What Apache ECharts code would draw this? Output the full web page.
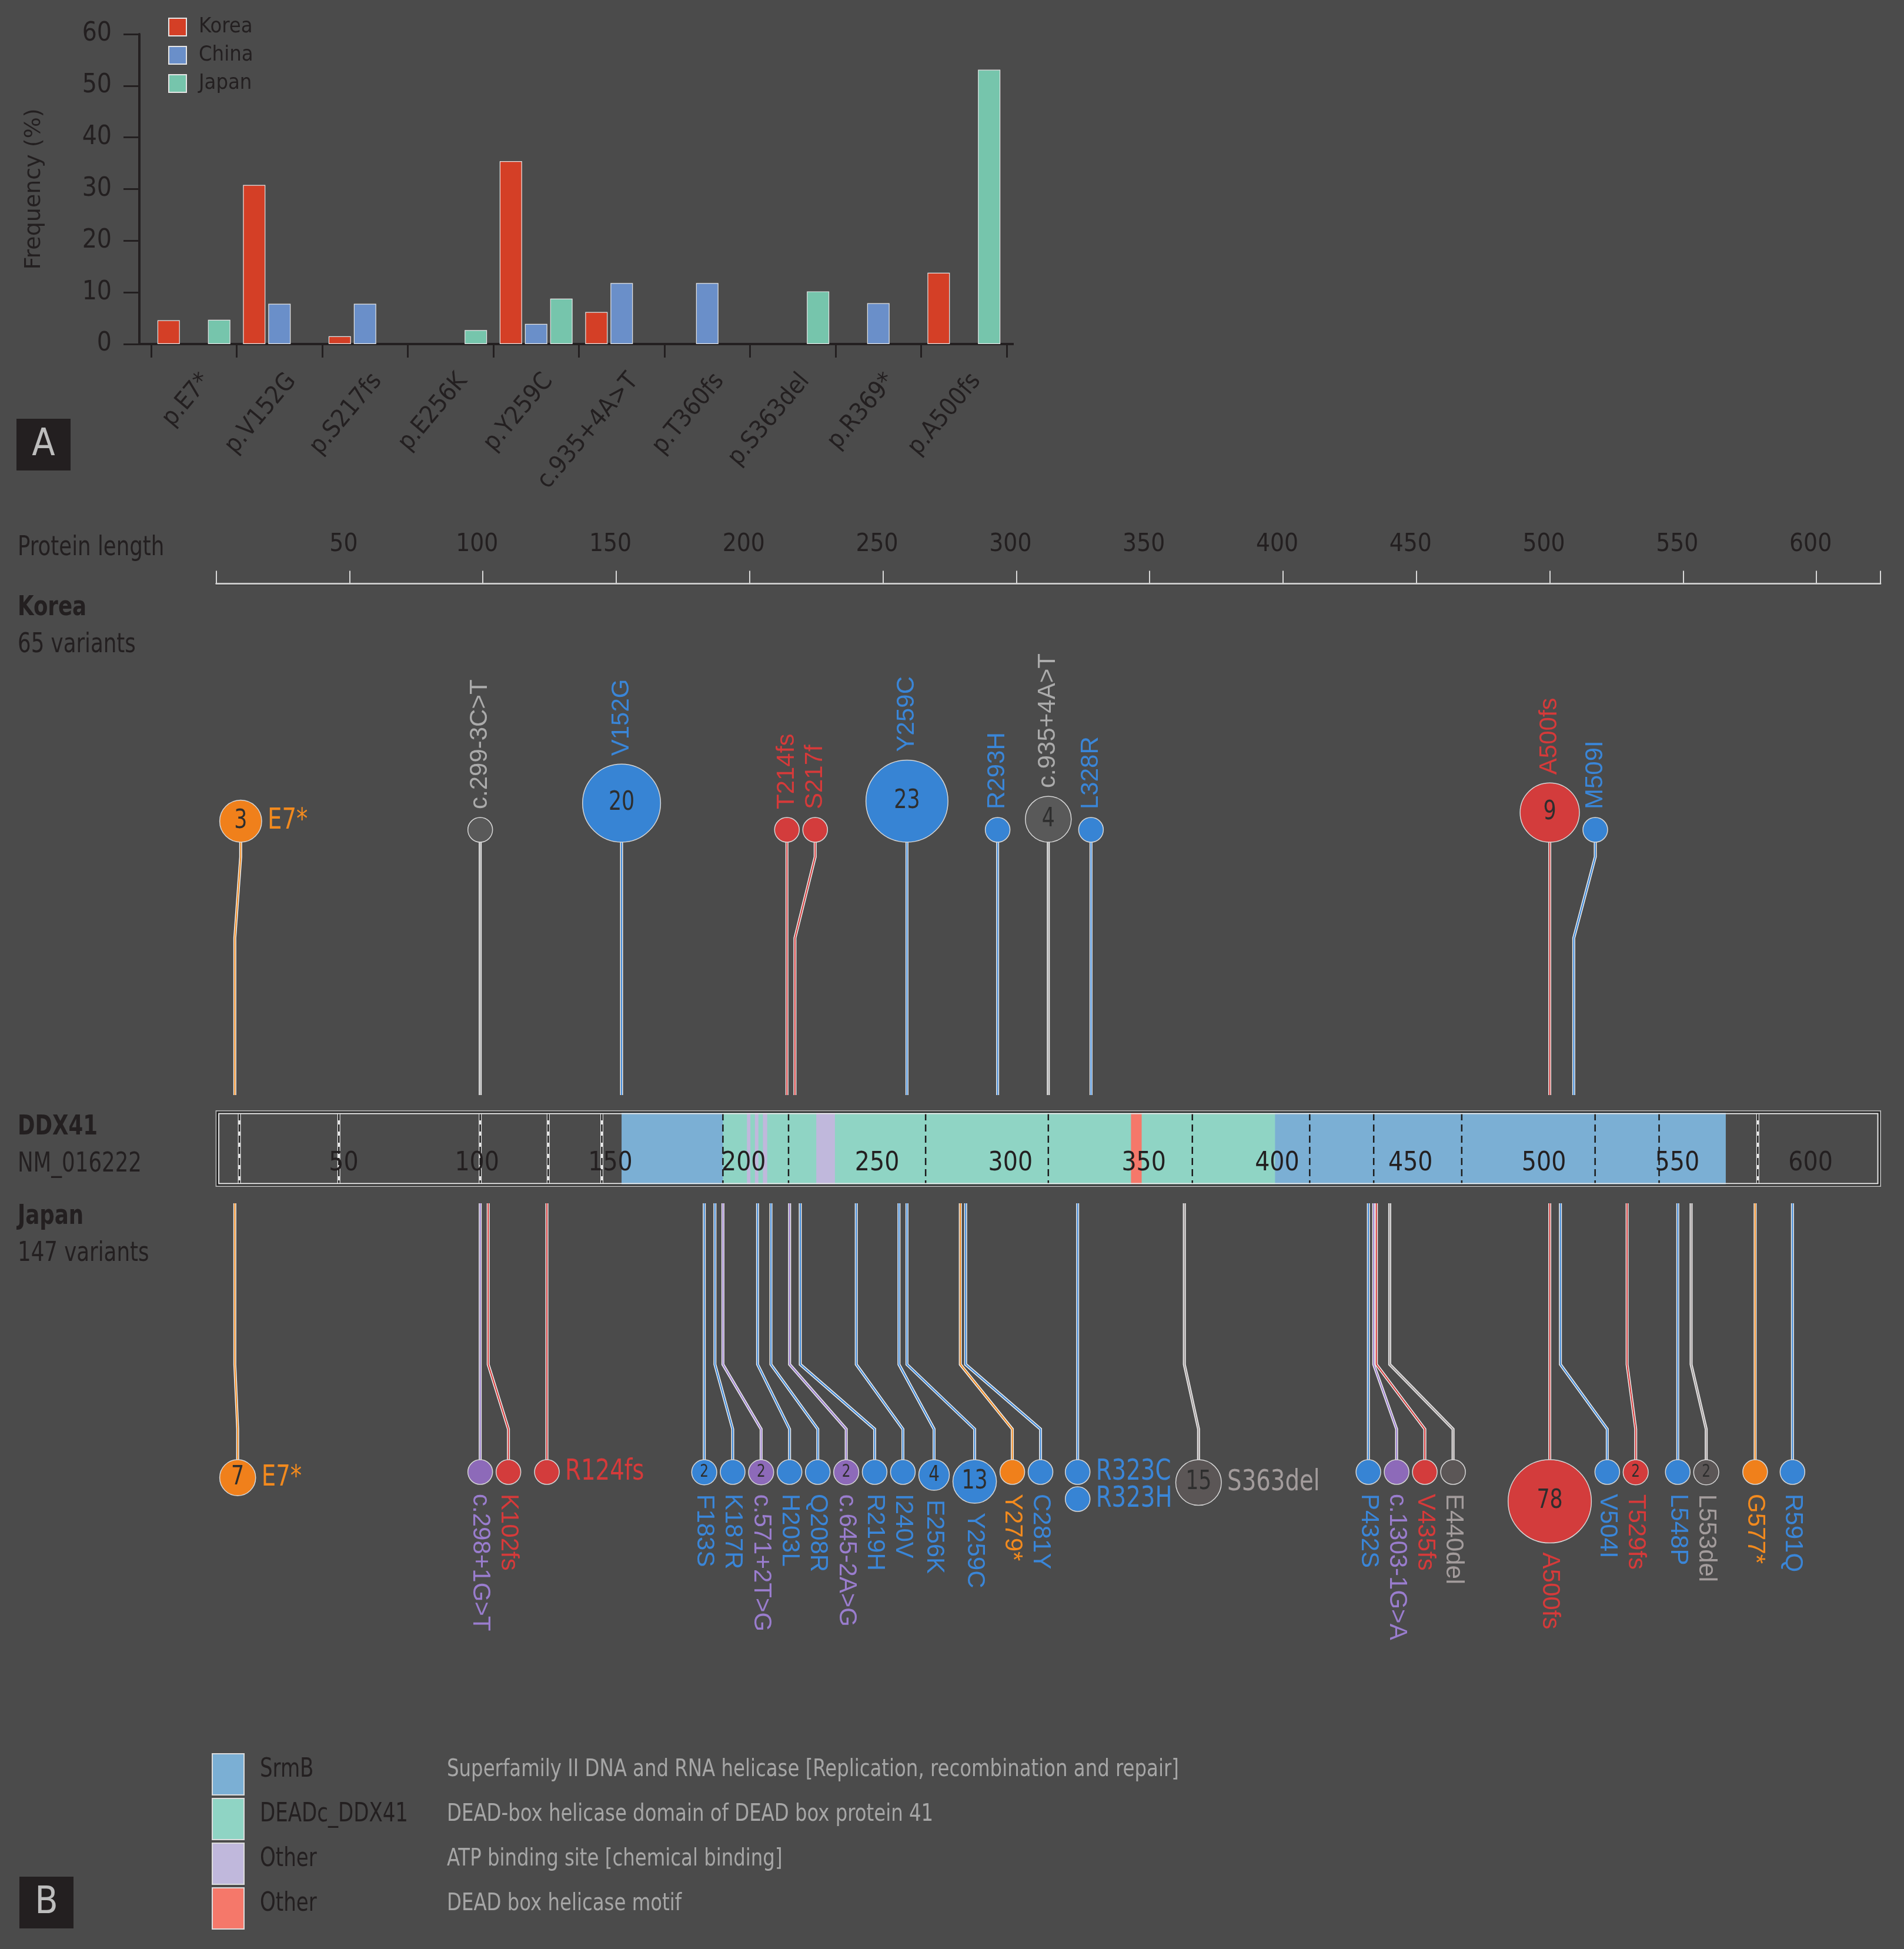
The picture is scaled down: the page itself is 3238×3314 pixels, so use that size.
<!DOCTYPE html>
<html>
<head>
<meta charset="utf-8">
<script src="https://cdn.jsdelivr.net/npm/echarts@6/dist/echarts.min.js"></script>
<style>
html, body { margin: 0; padding: 0; background: #4b4b4b; }
#chart { width: 3238px; height: 3314px; }
</style>
</head>
<body>
<div id="chart"></div>
<script>
// ---- panel A: frequency per hotspot variant ----
var mutationLabels = ['p.E7*', 'p.V152G', 'p.S217fs', 'p.E256K', 'p.Y259C', 'c.935+4A>T', 'p.T360fs', 'p.S363del', 'p.R369*', 'p.A500fs'];
var koreaFreq = [4.6, 30.8, 1.5, null, 35.4, 6.2, null, null, null, 13.8];
var chinaFreq = [null, 7.8, 7.8, null, 3.9, 11.8, 11.8, null, 7.9, null];
var japanFreq = [4.7, null, null, 2.7, 8.8, null, null, 10.2, null, 53.1];

// ---- panel B: DDX41 lollipop ----
var koreaNames = ['E7*', 'c.299-3C>T', 'V152G', 'T214fs', 'S217f', 'Y259C', 'R293H', 'c.935+4A>T', 'L328R', 'A500fs', 'M509I'];
var koreaPos = [7, 99, 152, 214, 217, 259, 293, 312, 328, 500, 509];
var koreaCounts = [3, 1, 20, 1, 1, 23, 1, 4, 1, 9, 1];
var koreaTypes = ['nonsense', 'intronic', 'missense', 'frameshift', 'frameshift', 'missense', 'missense', 'intronic', 'missense', 'frameshift', 'missense'];

var japanNames = ['E7*', 'c.298+1G>T', 'K102fs', 'R124fs', 'F183S', 'K187R', 'c.571+2T>G', 'H203L', 'Q208R', 'c.645-2A>G',
    'R219H', 'I240V', 'E256K', 'Y259C', 'Y279*', 'C281Y', 'R323C', 'R323H', 'S363del', 'P432S',
    'c.1303-1G>A', 'V435fs', 'E440del', 'A500fs', 'V504I', 'T529fs', 'L548P', 'L553del', 'G577*', 'R591Q'];
var japanPos = [7, 99, 102, 124, 183, 187, 190, 203, 208, 215, 219, 240, 256, 259, 279, 281, 323, 323, 363, 432,
    434, 435, 440, 500, 504, 529, 548, 553, 577, 591];
var japanCounts = [7, 1, 1, 1, 2, 1, 2, 1, 1, 2, 1, 1, 4, 13, 1, 1, 1, 1, 15, 1, 1, 1, 1, 78, 1, 2, 1, 2, 1, 1];
var japanTypes = ['nonsense', 'splice', 'frameshift', 'frameshift', 'missense', 'missense', 'splice', 'missense', 'missense', 'splice',
    'missense', 'missense', 'missense', 'missense', 'nonsense', 'missense', 'missense', 'missense', 'inframe', 'missense',
    'splice', 'frameshift', 'inframe', 'frameshift', 'missense', 'frameshift', 'missense', 'inframe', 'nonsense', 'missense'];

var srmbSpan = [152, 566];
var deadcSpan = [190, 397];
var atpSpans = [[199, 200.3], [202, 203.3], [205, 206.6], [225, 232]];
var motifSpan = [343, 347];
var exonBounds = [8.7, 46, 99, 124.5, 144.6, 190, 214.6, 266, 312, 366, 410, 434, 467, 517, 541, 578];

var legendNames = ['SrmB', 'DEADc_DDX41', 'Other', 'Other'];
var legendDescs = ['Superfamily II DNA and RNA helicase [Replication, recombination and repair]',
    'DEAD-box helicase domain of DEAD box protein 41',
    'ATP binding site [chemical binding]',
    'DEAD box helicase motif'];

// ---- styles ----
var NARROW = '"Liberation Sans Narrow", "DejaVu Sans Condensed", "Arial Narrow", sans-serif';
var SANS = '"Liberation Sans", Arial, sans-serif';
var SQUEEZE = 0.86;   // no condensed face installed, so graphic texts are squeezed
var INK = '#231f20';
var AXIS_MAX = 624;
var domainColors = ['#7bafd4', '#8fd4c4', '#c0b8dc', '#f5786a'];
var typeFill = { missense: '#3784d4', frameshift: '#d33c3c', nonsense: '#f0801b', splice: '#8d6ab9', inframe: '#5b5656', intronic: '#595959' };
var typeText = { missense: '#3a86d8', frameshift: '#d63a3a', nonsense: '#f28a1e', splice: '#9a7dce', inframe: '#a39c9c', intronic: '#ababab' };
var horizKorea = ['E7*'];
var horizJapan = ['E7*', 'R124fs', 'R323C', 'R323H', 'S363del'];

// vertical layout, in the pixel-like units of panel B's hidden y axis
var BAR_Y0 = 1889, BAR_Y1 = 2017;
var KOREA_STEM = [1862, 1595, 1457], KOREA_BASE = 1432;
var JAPAN_STEM = [2046, 2320, 2430], JAPAN_BASE = 2482;

var measureCtx = document.createElement('canvas').getContext('2d');
function textWidth(s, font) {
    measureCtx.font = font;
    return measureCtx.measureText(s).width;
}

// circle radius grows with the square root of the count, never below 21px
function circleR(count, scale) {
    return Math.max(21, scale[0] + scale[1] * Math.sqrt(count - 1));
}

function tickText(v) {
    return (v === 0 || v % 50 !== 0) ? '' : String(v);
}

// push circles right so they do not overlap (stems keep their true position)
function computeLayout(api, names, pos, counts, scale, horiz) {
    var res = [];
    var right = api.coord([0, 0])[0];
    var prev = null;
    for (var i = 0; i < pos.length; i++) {
        var r = circleR(counts[i], scale);
        var sx = api.coord([pos[i], 0])[0];
        var cx, stack = 0;
        if (prev && pos[prev.i] === pos[i]) {
            cx = prev.cx;
            stack = prev.stack + 1;
        } else {
            cx = Math.max(sx, right + 6 + r);
        }
        var ext = cx + r;
        if (horiz.indexOf(names[i]) >= 0) {
            ext += 10 + SQUEEZE * textWidth(names[i], '50px ' + NARROW);
        }
        right = Math.max(right, ext);
        prev = { i: i, cx: cx, stack: stack };
        res.push({ r: r, cx: cx, stack: stack });
    }
    return res;
}

function lollipops(names, pos, counts, types, isKorea, scale, horiz) {
    var layout = null;
    return {
        type: 'custom',
        xAxisIndex: 1,
        yAxisIndex: 1,
        z: 5,
        silent: true,
        data: pos.map(function (p, i) { return [p, counts[i]]; }),
        renderItem: function (params, api) {
            if (!layout) {
                layout = computeLayout(api, names, pos, counts, scale, horiz);
            }
            var i = params.dataIndex;
            var L = layout[i];
            var yc = function (v) { return api.coord([pos[i], v])[1]; };
            var sx = api.coord([pos[i], 0])[0];
            var cx = L.cx, r = L.r, cy;
            var pts;
            if (isKorea) {
                cy = yc(KOREA_BASE) - r;
                pts = [[sx, yc(KOREA_STEM[0])], [sx, yc(KOREA_STEM[1])], [cx, yc(KOREA_STEM[2])], [cx, cy + r]];
            } else {
                cy = yc(JAPAN_BASE) + r + L.stack * (2 * r + 4);
                pts = [[sx, yc(JAPAN_STEM[0])], [sx, yc(JAPAN_STEM[1])], [cx, yc(JAPAN_STEM[2])], [cx, cy - r]];
            }
            var fill = typeFill[types[i]];
            var tcol = typeText[types[i]];
            var children = [];
            if (L.stack === 0) {
                children.push({ type: 'polyline', shape: { points: pts }, style: { stroke: '#eeeeee', lineWidth: 5, fill: null } });
                children.push({ type: 'polyline', shape: { points: pts }, style: { stroke: tcol, lineWidth: 2, fill: null } });
            }
            children.push({ type: 'circle', shape: { cx: cx, cy: cy, r: r }, style: { fill: fill, stroke: '#d6d6d6', lineWidth: 1.5 } });
            if (counts[i] > 1) {
                var fs = r <= 22 ? 30 : (r < 30 ? 38 : 45);
                children.push({
                    type: 'text', x: cx, y: cy, scaleX: SQUEEZE,
                    style: { text: String(counts[i]), fill: '#2e2e2e', fontSize: fs, fontFamily: NARROW, align: 'center', verticalAlign: 'middle' }
                });
            }
            if (horiz.indexOf(names[i]) >= 0) {
                children.push({
                    type: 'text', x: cx + r + 10, y: cy, scaleX: SQUEEZE,
                    style: { text: names[i], fill: tcol, fontSize: 50, fontFamily: NARROW, align: 'left', verticalAlign: 'middle' }
                });
            } else if (isKorea) {
                children.push({
                    type: 'text', x: cx, y: cy - r - 14, rotation: Math.PI / 2,
                    style: { text: names[i], fill: tcol, fontSize: 42, fontFamily: SANS, align: 'left', verticalAlign: 'middle' }
                });
            } else {
                children.push({
                    type: 'text', x: cx, y: cy + r + 16, rotation: -Math.PI / 2,
                    style: { text: names[i], fill: tcol, fontSize: 42, fontFamily: SANS, align: 'left', verticalAlign: 'middle' }
                });
            }
            return { type: 'group', children: children };
        }
    };
}

// domain rectangles: [start, end, colour index]
var domainData = [[srmbSpan[0], srmbSpan[1], 0], [deadcSpan[0], deadcSpan[1], 1]];
atpSpans.forEach(function (s) { domainData.push([s[0], s[1], 2]); });
domainData.push([motifSpan[0], motifSpan[1], 3]);

function inDomain(v) {
    return v > srmbSpan[0] && v < srmbSpan[1];
}

var chart = echarts.init(document.getElementById('chart'));

var graphics = [
    // x axis of panel A runs a little past the category band on both sides
    { type: 'line', shape: { x1: 237, y1: 585, x2: 1724, y2: 585 }, style: { stroke: INK, lineWidth: 4 }, z: 1 },
    { type: 'rect', shape: { x: 28, y: 712, width: 92, height: 88 }, style: { fill: INK } },
    { type: 'text', x: 74, y: 757, style: { text: 'A', fill: '#bdbdbd', fontSize: 64, fontFamily: NARROW, align: 'center', verticalAlign: 'middle' } },
    { type: 'rect', shape: { x: 33, y: 3191, width: 92, height: 88 }, style: { fill: INK } },
    { type: 'text', x: 79, y: 3236, style: { text: 'B', fill: '#bdbdbd', fontSize: 64, fontFamily: NARROW, align: 'center', verticalAlign: 'middle' } }
];
var sideLabels = [['Protein length', 932, 'normal'], ['Korea', 1034, 'bold'], ['65 variants', 1097, 'normal'],
    ['DDX41', 1917, 'bold'], ['NM_016222', 1980, 'normal'], ['Japan', 2069, 'bold'], ['147 variants', 2132, 'normal']];
sideLabels.forEach(function (s) {
    graphics.push({ type: 'text', x: 30, y: s[1], scaleX: SQUEEZE, style: { text: s[0], fill: INK, fontSize: 46, fontWeight: s[2], fontFamily: NARROW, verticalAlign: 'middle' } });
});
legendNames.forEach(function (name, i) {
    var y = 2982 + i * 76;
    graphics.push({ type: 'rect', shape: { x: 361, y: y, width: 54, height: 70 }, style: { fill: domainColors[i], stroke: '#dcdcdc', lineWidth: 2 } });
    graphics.push({ type: 'text', x: 442, y: y + 28, scaleX: SQUEEZE, style: { text: name, fill: INK, fontSize: 44, fontFamily: NARROW, verticalAlign: 'middle' } });
    graphics.push({ type: 'text', x: 760, y: y + 28, scaleX: 0.9, style: { text: legendDescs[i], fill: '#a6a6a6', fontSize: 40, fontFamily: NARROW, verticalAlign: 'middle' } });
});

var option = {
    backgroundColor: '#4b4b4b',
    animation: false,
    textStyle: { fontFamily: NARROW },
    legend: {
        data: ['Korea', 'China', 'Japan'],
        orient: 'vertical',
        left: 281,
        top: 23,
        itemWidth: 30,
        itemHeight: 30,
        itemGap: 12,
        icon: 'rect',
        textStyle: { color: INK, fontSize: 36, lineHeight: 30, fontFamily: NARROW, padding: [0, 0, 0, 16] }
    },
    grid: [
        { left: 257, top: 58, width: 1455, height: 527, outerBoundsMode: 'none' },
        { left: 367.6, top: 0, width: 2830.4, height: 3314, outerBoundsMode: 'none' },
        { left: 367.6, top: 989.5, width: 2830.4, height: 3, outerBoundsMode: 'none' },
        { left: 367.6, top: BAR_Y0, width: 2830.4, height: BAR_Y1 - BAR_Y0, outerBoundsMode: 'none' },
        { left: 278, top: 58, width: 1455, height: 527, outerBoundsMode: 'none' }
    ],
    xAxis: [
        {
            gridIndex: 0, type: 'category', data: mutationLabels,
            axisLine: { show: false },
            axisTick: { show: true, length: 23, lineStyle: { color: INK, width: 3 } },
            axisLabel: { show: false }
        },
        { gridIndex: 1, type: 'value', min: 0, max: AXIS_MAX, show: false },
        {
            gridIndex: 2, type: 'value', position: 'top', min: 0, max: AXIS_MAX, interval: 50,
            axisLine: { show: true, lineStyle: { color: '#262626', width: 3.5 } },
            axisTick: { show: true, length: 22, lineStyle: { color: '#d8d8d8', width: 2 } },
            splitLine: { show: false },
            axisLabel: { margin: 42, color: INK, fontSize: 42, fontFamily: NARROW, padding: [0, 20, 0, 0], formatter: tickText }
        },
        {
            gridIndex: 2, type: 'value', position: 'bottom', min: 0, max: AXIS_MAX,
            axisLine: { show: true, lineStyle: { color: '#c9c9c9', width: 3 } },
            axisTick: { show: false }, axisLabel: { show: false }, splitLine: { show: false }
        },
        {
            gridIndex: 3, type: 'value', position: 'bottom', min: 0, max: AXIS_MAX, interval: 50, z: 10,
            axisLine: { show: false }, axisTick: { show: false }, splitLine: { show: false },
            axisLabel: { inside: true, margin: 16, color: INK, fontSize: 44, fontFamily: NARROW, padding: [0, 20, 0, 0], formatter: tickText }
        },
        {
            gridIndex: 4, type: 'category', data: mutationLabels,
            axisLine: { show: false }, axisTick: { show: false },
            axisLabel: { interval: 0, rotate: 50, margin: 56, color: INK, fontSize: 42, fontFamily: NARROW }
        }
    ],
    yAxis: [
        {
            gridIndex: 0, type: 'value', min: 0, max: 60, interval: 10, offset: 20,
            name: 'Frequency (%)', nameLocation: 'middle', nameGap: 160,
            nameTextStyle: { color: INK, fontSize: 38, fontFamily: '"DejaVu Sans", sans-serif' },
            axisLine: { show: true, lineStyle: { color: INK, width: 4 } },
            axisTick: { show: true, length: 27, lineStyle: { color: INK, width: 3 } },
            splitLine: { show: false },
            axisLabel: { margin: 47, color: INK, fontSize: 44, fontFamily: NARROW }
        },
        { gridIndex: 1, type: 'value', min: 0, max: 3314, inverse: true, show: false },
        { gridIndex: 2, type: 'value', show: false },
        { gridIndex: 3, type: 'value', show: false },
        { gridIndex: 4, type: 'value', show: false }
    ],
    series: [
        {
            name: 'Korea', type: 'bar', xAxisIndex: 0, yAxisIndex: 0, data: koreaFreq,
            barWidth: 38, barGap: '13%', itemStyle: { color: '#d43f26', borderColor: '#e6e6e6', borderWidth: 1.2 }
        },
        {
            name: 'China', type: 'bar', xAxisIndex: 0, yAxisIndex: 0, data: chinaFreq,
            barWidth: 38, barGap: '13%', itemStyle: { color: '#6a8fc9', borderColor: '#e6e6e6', borderWidth: 1.2 }
        },
        {
            name: 'Japan', type: 'bar', xAxisIndex: 0, yAxisIndex: 0, data: japanFreq,
            barWidth: 38, barGap: '13%', itemStyle: { color: '#76c5ac', borderColor: '#e6e6e6', borderWidth: 1.2 }
        },
        {
            type: 'custom', xAxisIndex: 1, yAxisIndex: 1, z: 2, silent: true,
            data: domainData.map(function (d) { return [d[0], d[1]]; }),
            renderItem: function (params, api) {
                var d = domainData[params.dataIndex];
                var p0 = api.coord([d[0], BAR_Y0 + 2]);
                var p1 = api.coord([d[1], BAR_Y1 - 2]);
                return { type: 'rect', shape: { x: p0[0], y: p0[1], width: p1[0] - p0[0], height: p1[1] - p0[1] }, style: { fill: domainColors[d[2]] } };
            }
        },
        {
            type: 'custom', xAxisIndex: 1, yAxisIndex: 1, z: 3, silent: true,
            data: exonBounds.map(function (b) { return [b, BAR_Y0]; }),
            renderItem: function (params, api) {
                var b = exonBounds[params.dataIndex];
                var p0 = api.coord([b, BAR_Y0 + 4]);
                var p1 = api.coord([b, BAR_Y1 - 4]);
                var kids = [];
                if (!inDomain(b)) {
                    kids.push({ type: 'line', shape: { x1: p0[0], y1: p0[1], x2: p1[0], y2: p1[1] }, style: { stroke: '#e4e4e4', lineWidth: 5 } });
                }
                kids.push({ type: 'line', shape: { x1: p0[0], y1: p0[1], x2: p1[0], y2: p1[1] }, style: { stroke: '#1c1c1c', lineWidth: 2.5, lineDash: [12, 7] } });
                return { type: 'group', children: kids };
            }
        },
        {
            type: 'custom', xAxisIndex: 1, yAxisIndex: 1, z: 4, silent: true,
            data: [[0, BAR_Y0]],
            renderItem: function (params, api) {
                var p0 = api.coord([0, BAR_Y0]);
                var p1 = api.coord([AXIS_MAX, BAR_Y1]);
                var w = p1[0] - p0[0], h = p1[1] - p0[1];
                return {
                    type: 'group', children: [
                        { type: 'rect', shape: { x: p0[0], y: p0[1], width: w, height: h }, style: { fill: null, stroke: '#b4b4b4', lineWidth: 2 } },
                        { type: 'rect', shape: { x: p0[0] + 2, y: p0[1] + 2, width: w - 4, height: h - 4 }, style: { fill: null, stroke: '#1e1e1e', lineWidth: 2.5 } },
                        { type: 'rect', shape: { x: p0[0] + 4.5, y: p0[1] + 4.5, width: w - 9, height: h - 9 }, style: { fill: null, stroke: '#e2e2e2', lineWidth: 2 } }
                    ]
                };
            }
        },
        lollipops(koreaNames, koreaPos, koreaCounts, koreaTypes, true, [21, 10.4], horizKorea),
        lollipops(japanNames, japanPos, japanCounts, japanTypes, false, [15, 6.36], horizJapan)
    ],
    graphic: graphics
};

chart.setOption(option);
</script>
</body>
</html>
